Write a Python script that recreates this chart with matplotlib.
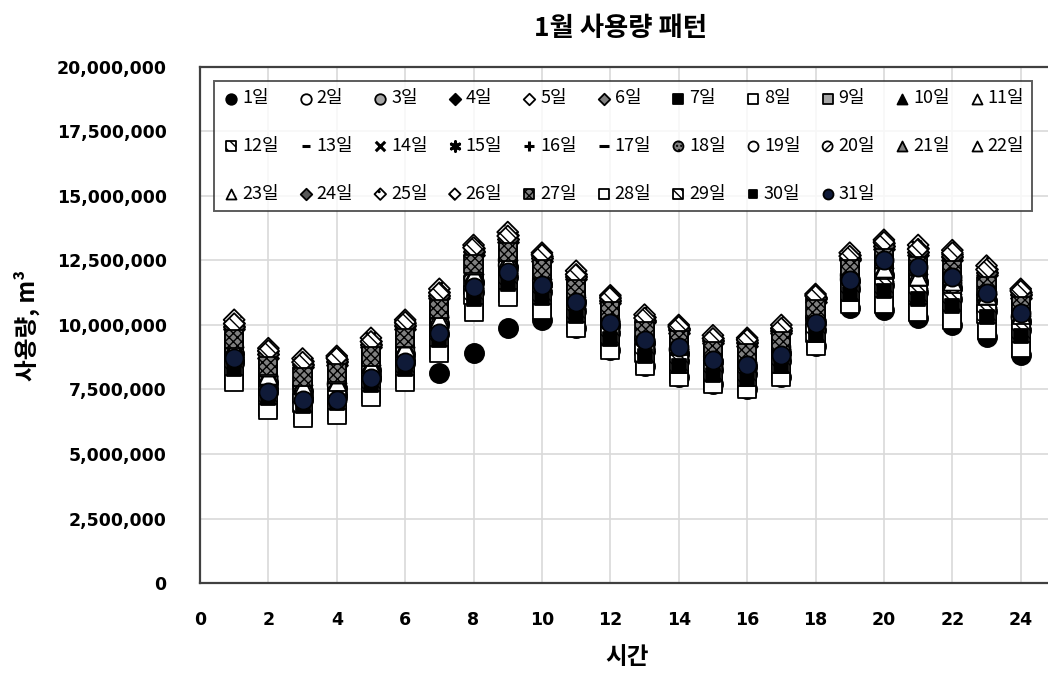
import matplotlib
matplotlib.use("Agg")
import matplotlib.pyplot as plt
from matplotlib.ticker import FuncFormatter, MultipleLocator

plt.rcParams['font.family'] = ['Noto Sans CJK KR', 'DejaVu Sans']
plt.rcParams['hatch.linewidth'] = 1.0

# hours of the day
hours = list(range(1, 25))

# hourly usage per day, million m3
d01 = [8.64, 7.54, 7.21, 7.31, 8.01, 8.64, 8.15, 8.90, 9.90, 10.20, 9.90, 9.05, 8.40, 8.00, 7.70, 7.50, 8.00, 9.20, 10.65, 10.60, 10.27, 10.00, 9.55, 8.85]
d02 = [8.52, 7.42, 7.09, 7.19, 7.89, 8.52, 9.65, 11.28, 11.85, 11.26, 10.56, 9.68, 9.00, 8.60, 8.27, 8.10, 8.60, 9.80, 11.40, 11.55, 11.28, 11.01, 10.55, 9.79]
d03 = [8.88, 7.78, 7.44, 7.54, 8.24, 8.88, 10.03, 11.67, 12.23, 11.59, 10.89, 10.00, 9.30, 8.90, 8.56, 8.40, 8.90, 10.10, 11.70, 11.93, 11.67, 11.42, 10.93, 10.14]
d04 = [9.84, 8.74, 8.36, 8.46, 9.16, 9.84, 11.03, 12.71, 13.23, 12.47, 11.77, 10.84, 10.10, 9.70, 9.32, 9.20, 9.70, 10.90, 12.50, 12.93, 12.71, 12.50, 11.93, 11.06]
d05 = [10.08, 8.98, 8.59, 8.69, 9.39, 10.08, 11.28, 12.97, 13.48, 12.69, 11.99, 11.05, 10.30, 9.90, 9.51, 9.40, 9.90, 11.10, 12.70, 13.18, 12.97, 12.77, 12.18, 11.29]
d06 = [9.96, 8.86, 8.47, 8.57, 9.27, 9.96, 11.15, 12.84, 13.35, 12.58, 11.88, 10.94, 10.20, 9.80, 9.41, 9.30, 9.80, 11.00, 12.60, 13.05, 12.84, 12.63, 12.05, 11.17]
d07 = [8.16, 7.06, 6.75, 6.85, 7.55, 8.16, 9.28, 10.89, 11.48, 10.93, 10.23, 9.37, 8.70, 8.30, 7.99, 7.80, 8.30, 9.50, 11.10, 11.18, 10.89, 10.61, 10.18, 9.45]
d08 = [7.92, 6.82, 6.52, 6.62, 7.32, 7.92, 9.03, 10.63, 11.23, 10.71, 10.01, 9.16, 8.50, 8.10, 7.80, 7.60, 8.10, 9.30, 10.90, 10.93, 10.63, 10.34, 9.93, 9.22]
d09 = [9.36, 8.26, 7.90, 8.00, 8.70, 9.36, 10.53, 12.19, 12.73, 12.03, 11.33, 10.42, 9.70, 9.30, 8.94, 8.80, 9.30, 10.50, 12.10, 12.43, 12.19, 11.96, 11.43, 10.60]
d10 = [9.00, 7.90, 7.55, 7.65, 8.35, 9.00, 10.15, 11.80, 12.35, 11.70, 11.00, 10.10, 9.40, 9.00, 8.65, 8.50, 9.00, 10.20, 11.80, 12.05, 11.80, 11.55, 11.05, 10.25]
d11 = [9.12, 8.02, 7.67, 7.77, 8.47, 9.12, 10.28, 11.93, 12.48, 11.81, 11.11, 10.21, 9.50, 9.10, 8.75, 8.60, 9.10, 10.30, 11.90, 12.18, 11.93, 11.69, 11.18, 10.37]
d12 = [8.76, 7.66, 7.32, 7.42, 8.12, 8.76, 9.90, 11.54, 12.10, 11.48, 10.78, 9.89, 9.20, 8.80, 8.46, 8.30, 8.80, 10.00, 11.60, 11.80, 11.54, 11.28, 10.80, 10.02]
d13 = [8.64, 7.54, 7.21, 7.31, 8.01, 8.64, 9.78, 11.41, 11.98, 11.37, 10.67, 9.79, 9.10, 8.70, 8.37, 8.20, 8.70, 9.90, 11.50, 11.68, 11.41, 11.15, 10.68, 9.91]
d14 = [8.85, 7.80, 7.46, 7.50, 8.20, 8.90, 10.00, 11.70, 12.20, 11.62, 10.85, 10.02, 9.28, 8.93, 8.52, 8.43, 8.87, 10.12, 11.66, 11.96, 11.63, 11.45, 10.90, 10.17]
d15 = [9.03, 7.87, 7.58, 7.62, 8.38, 8.97, 10.18, 11.77, 12.38, 11.67, 11.03, 10.07, 9.43, 8.97, 8.68, 8.47, 9.03, 10.17, 11.83, 12.02, 11.83, 11.52, 11.08, 10.22]
d16 = [8.73, 7.69, 7.30, 7.45, 8.09, 8.79, 9.87, 11.57, 12.07, 11.51, 10.75, 9.92, 9.17, 8.83, 8.43, 8.33, 8.77, 10.03, 11.57, 11.83, 11.51, 11.31, 10.77, 10.05]
d17 = [8.55, 7.39, 7.12, 7.16, 7.92, 8.49, 9.62, 11.31, 11.82, 11.29, 10.53, 9.71, 8.97, 8.63, 8.24, 8.13, 8.57, 9.83, 11.37, 11.58, 11.25, 11.04, 10.52, 9.82]
d18 = [9.15, 7.99, 7.70, 7.74, 8.50, 9.09, 10.31, 11.90, 12.51, 11.78, 11.14, 10.18, 9.53, 9.07, 8.78, 8.57, 9.13, 10.27, 11.93, 12.15, 11.96, 11.66, 11.21, 10.34]
d19 = [8.91, 7.75, 7.42, 7.57, 8.21, 8.85, 10.06, 11.64, 12.26, 11.56, 10.92, 9.97, 9.33, 8.87, 8.59, 8.37, 8.93, 10.07, 11.73, 11.90, 11.70, 11.39, 10.96, 10.11]
d20 = [8.97, 7.93, 7.52, 7.68, 8.32, 9.03, 10.12, 11.83, 12.32, 11.73, 10.97, 10.13, 9.37, 9.03, 8.62, 8.53, 8.97, 10.23, 11.77, 12.08, 11.77, 11.58, 11.02, 10.28]
d21 = [9.24, 8.14, 7.78, 7.88, 8.58, 9.24, 10.40, 12.06, 12.60, 11.92, 11.22, 10.31, 9.60, 9.20, 8.84, 8.70, 9.20, 10.40, 12.00, 12.30, 12.06, 11.82, 11.30, 10.48]
d22 = [9.09, 8.05, 7.64, 7.80, 8.44, 9.15, 10.25, 11.96, 12.45, 11.84, 11.08, 10.24, 9.47, 9.13, 8.72, 8.63, 9.07, 10.33, 11.87, 12.21, 11.90, 11.72, 11.15, 10.40]
d23 = [9.48, 8.38, 8.01, 8.11, 8.81, 9.48, 10.65, 12.32, 12.85, 12.14, 11.44, 10.52, 9.80, 9.40, 9.03, 8.90, 9.40, 10.60, 12.20, 12.55, 12.32, 12.09, 11.55, 10.71]
d24 = [9.93, 8.89, 8.44, 8.60, 9.24, 9.99, 11.12, 12.87, 13.32, 12.61, 11.85, 10.97, 10.17, 9.83, 9.38, 9.33, 9.77, 11.03, 12.57, 13.08, 12.81, 12.66, 12.02, 11.20]
d25 = [10.20, 9.10, 8.70, 8.80, 9.50, 10.20, 11.40, 13.10, 13.60, 12.80, 12.10, 11.15, 10.40, 10.00, 9.60, 9.50, 10.00, 11.20, 12.80, 13.30, 13.10, 12.90, 12.30, 11.40]
d26 = [10.05, 9.01, 8.56, 8.72, 9.36, 10.11, 11.25, 13.00, 13.45, 12.72, 11.96, 11.08, 10.27, 9.93, 9.48, 9.43, 9.87, 11.13, 12.67, 13.21, 12.94, 12.80, 12.15, 11.32]
d27 = [9.45, 8.41, 7.98, 8.14, 8.78, 9.51, 10.62, 12.35, 12.82, 12.17, 11.41, 10.55, 9.77, 9.43, 9.00, 8.93, 9.37, 10.63, 12.17, 12.58, 12.29, 12.12, 11.52, 10.74]
d28 = [7.80, 6.70, 6.40, 6.50, 7.20, 7.80, 8.90, 10.50, 11.10, 10.60, 9.90, 9.05, 8.40, 8.00, 7.70, 7.50, 8.00, 9.20, 10.80, 10.80, 10.50, 10.20, 9.80, 9.10]
d29 = [8.40, 7.30, 6.98, 7.08, 7.78, 8.40, 9.53, 11.15, 11.73, 11.15, 10.45, 9.58, 8.90, 8.50, 8.18, 8.00, 8.50, 9.70, 11.30, 11.43, 11.15, 10.88, 10.43, 9.68]
d30 = [8.28, 7.18, 6.86, 6.96, 7.66, 8.28, 9.40, 11.02, 11.60, 11.04, 10.34, 9.47, 8.80, 8.40, 8.08, 7.90, 8.40, 9.60, 11.20, 11.30, 11.02, 10.74, 10.30, 9.56]
d31 = [8.72, 7.40, 7.10, 7.10, 7.95, 8.57, 9.69, 11.47, 12.05, 11.55, 10.90, 10.08, 9.42, 9.15, 8.64, 8.45, 8.84, 10.08, 11.74, 12.50, 12.25, 11.86, 11.24, 10.47]

days = [d01, d02, d03, d04, d05, d06, d07, d08, d09, d10, d11, d12, d13, d14, d15, d16,
        d17, d18, d19, d20, d21, d22, d23, d24, d25, d26, d27, d28, d29, d30, d31]
day_labels = [f"{i}일" for i in range(1, 32)]

# marker styles imitating the grey-scale series markers
ast = (6, 2, 0)
styles = [
    ('o', 'black', None, 1.0), ('o', 'white', None, 1.0), ('o', '#a6a6a6', None, 1.0),
    ('D', 'black', None, 0.6), ('D', 'white', None, 0.6), ('D', '#808080', None, 0.6),
    ('s', 'black', None, 0.9), ('s', 'white', None, 0.9), ('s', '#a6a6a6', None, 0.9),
    ('^', 'black', None, 0.9), ('^', 'white', None, 0.9), ('s', 'white', '\\\\\\', 0.9),
    ('_', 'black', None, 0.6), ('x', 'black', None, 0.8), (ast, 'black', None, 0.8),
    ('+', 'black', None, 0.8), ('_', 'black', None, 0.9), ('o', '#808080', '....', 0.9),
    ('o', 'white', None, 0.9), ('o', 'white', '////', 0.9), ('^', '#808080', None, 0.9),
    ('^', 'white', None, 0.9), ('^', 'white', None, 0.9), ('D', '#595959', None, 0.6),
    ('D', 'white', '..', 0.6), ('D', 'white', '\\\\\\', 0.6), ('s', '#7f7f7f', 'xxxx', 0.9),
    ('s', 'white', None, 0.9), ('s', 'white', '\\\\\\\\', 0.9), ('s', 'black', None, 0.6),
    ('o', '#0f1a38', None, 0.9),
]

fig = plt.figure(figsize=(10.48, 6.85), dpi=100)
ax = fig.add_axes([0.1908, 0.1489, 0.8158, 0.7533])

base = 190
handles = []
for vals, lab, (mk, fc, hatch, sc) in zip(days, day_labels, styles):
    y = [v * 1e6 for v in vals]
    if mk in ('_', 'x', '+', ast):
        h = ax.scatter(hours, y, s=base * sc, marker=mk, c='black', linewidths=2.2,
                       label=lab, zorder=3)
    else:
        h = ax.scatter(hours, y, s=base * sc, marker=mk, facecolors=fc, edgecolors='black',
                       linewidths=1.3, hatch=hatch, label=lab, zorder=3)
    handles.append(h)

ax.set_xlim(0, 25)
ax.set_ylim(0, 20000000)
ax.set_xticks(range(0, 25, 2))
ax.yaxis.set_major_locator(MultipleLocator(2500000))
ax.yaxis.set_major_formatter(FuncFormatter(lambda v, p: f"{v:,.0f}"))
ax.grid(True, color='#d9d9d9', linewidth=1.2, zorder=0)
ax.set_axisbelow(True)
ax.tick_params(length=0)
ax.tick_params(axis='x', pad=20)
ax.tick_params(axis='y', pad=24)
for t in ax.get_xticklabels() + ax.get_yticklabels():
    t.set_fontfamily('DejaVu Sans')
    t.set_fontweight('bold')
    t.set_fontsize(12.5)
for sp in ax.spines.values():
    sp.set_color('#404040')
    sp.set_linewidth(1.6)

ax.set_xlabel("시간", fontsize=17, fontweight='bold', labelpad=12)
ax.set_ylabel("사용량, m³", fontsize=17, fontweight='bold', labelpad=12)
fig.text(0.592, 0.959, "1월 사용량 패턴", ha='center', va='center',
         fontsize=19, fontweight='bold')

# legend is filled column by column, so order the entries to read row by row
order = []
for c in range(11):
    rows = 3 if c < 9 else 2
    for r in range(rows):
        order.append(r * 11 + c)
leg = ax.legend([handles[i] for i in order], [day_labels[i] for i in order],
                loc='upper left', bbox_to_anchor=(0.006, 0.99, 0.978, 0), mode='expand',
                ncol=11, fontsize=13, markerscale=0.55, handletextpad=0.1,
                handlelength=1.0, labelspacing=1.65, borderpad=0.45, columnspacing=0.3,
                frameon=True, fancybox=False, scatterpoints=1)
leg.get_frame().set_edgecolor('#333333')
leg.get_frame().set_linewidth(1.4)

fig.savefig("out.png", dpi=100)
